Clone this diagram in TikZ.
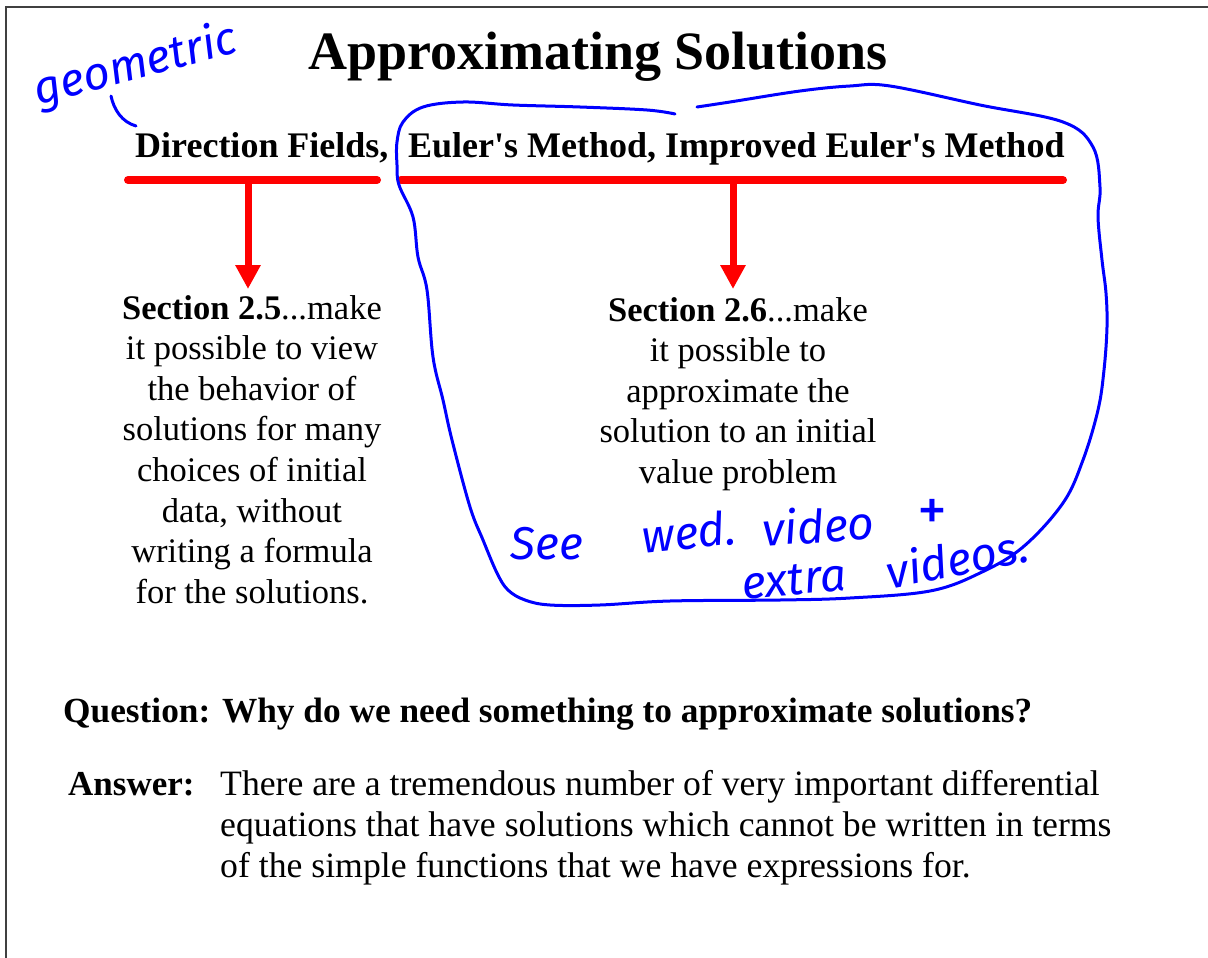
\documentclass[tikz,border=0pt]{standalone}
\usepackage{fontspec}
\setmainfont{Liberation Serif}[Ligatures=TeXOff]
\newfontfamily\hand{Fira Sans}
\usetikzlibrary{arrows.meta}
\definecolor{inkblue}{RGB}{0,0,255}
\definecolor{barred}{RGB}{255,0,0}
\tikzset{
  bar/.style={draw=barred, line width=8pt, line cap=round},
  redarrow/.style={draw=barred, line width=7pt, -{Triangle[width=24pt,length=24pt]}},
  ink/.style={draw=inkblue, line width=3pt, line cap=round, line join=round},
  handtext/.style={text=inkblue, font=\hand\itshape\fontsize{46}{50}\selectfont, inner sep=0pt},
  body/.style={font=\fontsize{34.5}{40.6}\selectfont, align=center, inner sep=0pt},
}
\begin{document}
\begin{tikzpicture}[x=1pt,y=-1pt]
\useasboundingbox (0,0) rectangle (1208,958);
% frame
\draw[black!75, line width=2pt] (6,958) -- (6,7) -- (1208,7);
% title
\node[anchor=base, inner sep=0pt, font=\fontsize{54}{60}\selectfont\bfseries] (title) at (598,70) {Approximating Solutions};
% topics
\node[anchor=base west, inner sep=0pt, font=\fontsize{36}{40}\selectfont\bfseries] (df) at (135,157) {Direction Fields,};
\node[anchor=base west, inner sep=0pt, font=\fontsize{36}{40}\selectfont\bfseries] (eu) at (408,157) {Euler's Method, Improved Euler's Method};
% bars
\coordinate (barLa) at (128,180);
\coordinate (barLb) at (377,180);
\coordinate (barRa) at (401,180);
\coordinate (barRb) at (1063,180);
\draw[bar] (barLa) -- (barLb);
\draw[bar] (barRa) -- (barRb);
% section texts
\node[body, anchor=north] (s25) at (252,295) {\textbf{Section 2.5}...make\\it possible to view\\the behavior of\\solutions for many\\choices of initial\\data, without\\writing a formula\\for the solutions.};
\node[body, anchor=north] (s26) at (738,297) {\textbf{Section 2.6}...make\\it possible to\\approximate the\\solution to an initial\\value problem};
% arrows
\coordinate (arrL) at (248,180);
\coordinate (tipL) at (248,289);
\coordinate (arrR) at (733,180);
\coordinate (tipR) at (733,289);
\draw[redarrow] (arrL) -- (tipL);
\draw[redarrow] (arrR) -- (tipR);
% question / answer
\node[anchor=base west, inner sep=0pt, font=\fontsize{35.3}{40}\selectfont\bfseries] (q) at (63,722) {Question: Why do we need something to approximate solutions?};
\node[anchor=base west, inner sep=0pt, font=\fontsize{35}{41}\selectfont\bfseries] (ansl) at (68,795) {Answer:};
\node[anchor=base west, inner sep=0pt, font=\fontsize{35.7}{41}\selectfont] (anst) at (220,795) {There are a tremendous number of very important differential};
\node[anchor=base west, inner sep=0pt, font=\fontsize{35.7}{41}\selectfont] (anst2) at (220,836) {equations that have solutions which cannot be written in terms};
\node[anchor=base west, inner sep=0pt, font=\fontsize{35.7}{41}\selectfont] (anst3) at (220,877) {of the simple functions that we have expressions for.};
% handwriting
\node[handtext, rotate=15] (geo) at (136,66) {geometric};
\coordinate (gmA) at (111,96);
\coordinate (gmB) at (136,126);
\draw[ink] (gmA) .. controls (114,110) and (122,122) .. (gmB);
\node[handtext] (see) at (547,544) {See};
\node[handtext, rotate=6] (wed) at (689,532) {wed.};
\node[handtext, rotate=4] (vid) at (818,525) {video};
\node[handtext, font=\hand\fontsize{60}{60}\selectfont] (plus) at (932,515) {+};
\node[handtext, rotate=5] (ext) at (794,580) {extra};
\node[handtext, rotate=11] (vids) at (957,558) {videos.};
% loop
\draw[ink] plot[smooth, tension=0.6] coordinates {
 (675,114) (647,110) (580,107) (513,105) (463,102) (423,107) (403,122) (397,142)
 (397,165) (399,185) (413,217) (418,257) (427,290) (433,357) (443,400) (452,440)
 (470,507) (483,540) (497,573) (508,590) (525,600) (550,605) (600,605) (670,601)
 (780,600) (850,598) (930,591) (980,573) (1023,547) (1063,503) (1083,460) (1098,410)
 (1104,370) (1107,327) (1106,293) (1102,260) (1098,217) (1100,187) (1093,147) (1063,122)
 (980,105) (890,86) (850,86) (800,91) (730,102) (697,107)};
\end{tikzpicture}
\end{document}
